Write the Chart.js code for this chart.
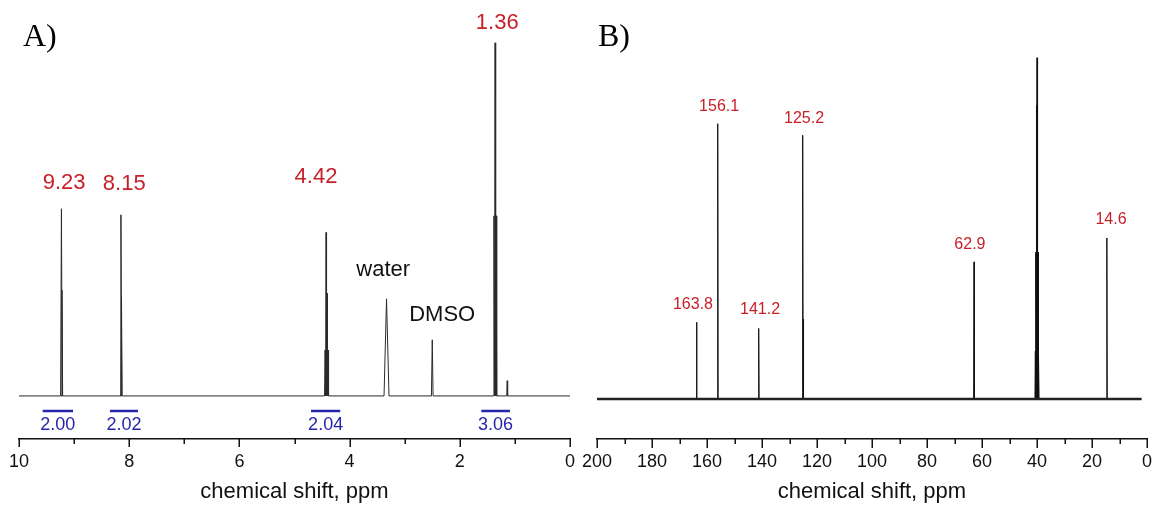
<!DOCTYPE html>
<html>
<head>
<meta charset="utf-8">
<script src="https://cdn.jsdelivr.net/npm/chart.js@4.4.1/dist/chart.umd.min.js"></script>
<style>
  html, body { margin: 0; padding: 0; background: #fff; }
  #wrap { position: relative; width: 1157px; height: 509px; }
  .panel { position: absolute; top: 0; height: 509px; }
  #h-panel { left: 0; width: 580px; }
  #c-panel { left: 580px; width: 577px; }
</style>
</head>
<body>
<div id="wrap">
  <div class="panel" id="h-panel"><canvas id="h-nmr" width="580" height="509"></canvas></div>
  <div class="panel" id="c-panel"><canvas id="c-nmr" width="577" height="509"></canvas></div>
</div>
<script>
// 1H spectrum: line positions (ppm), heights (tallest line = 100), half-width of each foot (ppm)
const hLines   = [9.23, 9.22, 8.15, 8.14, 4.445, 4.427, 4.41, 4.392, 3.33, 2.50, 1.38, 1.36, 1.34, 1.14];
const hHeights = [53.0, 30.0, 51.3, 28.0, 13.0,  46.3,  29.0, 13.0,  27.5, 15.9, 51.0, 100,  51.0, 4.3];
const hFoot    = [0.015, 0.012, 0.015, 0.012, 0.01, 0.01, 0.01, 0.01, 0.045, 0.015, 0.01, 0.012, 0.01, 0.008];

// 1H peak labels
const hLabelShifts = [9.23, 8.15, 4.42, 1.36];
const hLabelX      = [9.18, 8.09, 4.61, 1.32];
const hLabelY      = [60.3, 60.1, 62.0, 105.7];
const hSolvents    = ['water', 'DMSO'];
const hSolventX    = [3.39, 2.32];
const hSolventY    = [35.7, 22.9];

// 1H integrals
const hIntegrals = ['2.00', '2.02', '2.04', '3.06'];
const hIntFrom   = [9.57, 8.35, 4.70, 1.61];
const hIntTo     = [9.02, 7.84, 4.17, 1.09];

// 13C spectrum (DMSO-d6 septet around 40 ppm)
const cLines   = [163.8, 156.1, 141.2, 125.2, 124.9, 62.9, 40.6, 40.4, 40.2, 40.0, 39.8, 39.6, 39.4, 14.6];
const cHeights = [22.5,  80.7,  20.7,  77.3,  23.4,  40.2, 14,   43,   86,   100,  86,   43,   14,   47.2];

// 13C peak labels
const cLabelShifts = [163.8, 156.1, 141.2, 125.2, 62.9, 14.6];
const cLabelX      = [165.1, 155.6, 140.7, 124.7, 64.4, 13.1];
const cLabelY      = [27.6,  85.8,  26.3,  82.2,  45.4, 52.6];

const SANS = "'Liberation Sans', Arial, sans-serif";
const RED = 'rgb(200, 32, 40)';
const BLUE = 'rgb(38, 38, 170)';

function spectrumPoints(lines, heights, foot, from, to) {
  const pts = [{ x: from, y: 0 }];
  lines.forEach((p, i) => {
    const w = Array.isArray(foot) ? foot[i] : foot;
    pts.push({ x: p + w, y: 0 }, { x: p, y: heights[i] }, { x: p - w, y: 0 });
  });
  pts.push({ x: to, y: 0 });
  return pts;
}

function integralPoints(from, to, level) {
  const pts = [];
  from.forEach((f, i) => {
    pts.push({ x: f, y: level }, { x: to[i], y: level }, { x: to[i], y: null });
  });
  return pts;
}

// outward tick marks, longer on labelled values
const axisTicks = {
  id: 'axisTicks',
  afterDraw(chart, args, opts) {
    const scale = chart.scales.x;
    const ctx = chart.ctx;
    const y0 = chart.chartArea.bottom;
    ctx.save();
    ctx.strokeStyle = '#111';
    ctx.lineWidth = 1.5;
    scale.ticks.forEach(t => {
      const major = Math.abs(t.value % opts.majorStep) < 1e-6;
      const x = Math.round(scale.getPixelForValue(t.value)) + 0.25;
      ctx.beginPath();
      ctx.moveTo(x, y0 - 0.5);
      ctx.lineTo(x, y0 + (major ? opts.major : opts.minor));
      ctx.stroke();
    });
    ctx.restore();
  }
};

// text placed in data coordinates, plus the panel letter
const textLayer = {
  id: 'textLayer',
  afterDatasetsDraw(chart, args, opts) {
    const { ctx, scales: { x, y } } = chart;
    ctx.save();
    ctx.textAlign = 'center';
    ctx.textBaseline = 'middle';
    opts.items.forEach(it => {
      ctx.font = it.font;
      ctx.fillStyle = it.color;
      ctx.fillText(it.text, x.getPixelForValue(it.x), y.getPixelForValue(it.y));
    });
    ctx.textAlign = 'left';
    ctx.textBaseline = 'alphabetic';
    ctx.font = "32px 'Liberation Serif', 'Times New Roman', serif";
    ctx.fillStyle = '#000';
    ctx.fillText(opts.panel, opts.panelX, 46);
    ctx.restore();
  }
};

function xAxis(max, step, labelStep) {
  return {
    type: 'linear',
    min: 0,
    max: max,
    reverse: true,
    border: { display: true, color: '#111', width: 1.5 },
    grid: { display: true, drawOnChartArea: false, drawTicks: true, tickLength: 12, tickColor: 'rgba(0,0,0,0)' },
    ticks: {
      stepSize: step,
      autoSkip: false,
      maxRotation: 0,
      padding: 0,
      color: '#111',
      font: { family: SANS, size: 18, lineHeight: 1.2 },
      callback: v => (Math.abs(v % labelStep) < 1e-6 ? String(v) : '')
    },
    title: {
      display: true,
      text: 'chemical shift, ppm',
      color: '#111',
      font: { family: SANS, size: 22, lineHeight: 1.2 },
      padding: { top: 6, bottom: 0 }
    }
  };
}

const baseOptions = {
  responsive: false,
  animation: false,
  events: [],
  plugins: { legend: { display: false }, tooltip: { enabled: false } },
  elements: { point: { radius: 0 }, line: { tension: 0 } }
};

// proton panel
const hItems = [];
hLabelShifts.forEach((s, i) => hItems.push({ text: s.toFixed(2), x: hLabelX[i], y: hLabelY[i], color: RED, font: `22px ${SANS}` }));
hSolvents.forEach((s, i) => hItems.push({ text: s, x: hSolventX[i], y: hSolventY[i], color: '#111', font: `22px ${SANS}` }));
hIntegrals.forEach((s, i) => hItems.push({ text: s, x: (hIntFrom[i] + hIntTo[i]) / 2, y: -8.2, color: BLUE, font: `18px ${SANS}` }));

new Chart(document.getElementById('h-nmr'), {
  type: 'line',
  data: {
    datasets: [
      {
        data: spectrumPoints(hLines, hHeights, hFoot, 10, 0),
        borderColor: '#2a2a2a',
        borderWidth: 1,
        fill: false
      },
      {
        data: integralPoints(hIntFrom, hIntTo, -4.25),
        borderColor: BLUE,
        borderWidth: 2.4,
        spanGaps: false,
        fill: false
      }
    ]
  },
  options: {
    ...baseOptions,
    layout: { padding: { left: 19, right: 10, top: 10, bottom: 4 } },
    scales: {
      x: xAxis(10, 1, 2),
      y: { display: false, min: -12.2, max: 109.3 }
    },
    plugins: {
      ...baseOptions.plugins,
      axisTicks: { majorStep: 2, major: 8, minor: 5 },
      textLayer: { items: hItems, panel: 'A)', panelX: 23 }
    }
  },
  plugins: [axisTicks, textLayer]
});

// carbon panel
const cItems = cLabelShifts.map((s, i) => ({ text: s.toFixed(1), x: cLabelX[i], y: cLabelY[i], color: RED, font: `16px ${SANS}` }));

new Chart(document.getElementById('c-nmr'), {
  type: 'line',
  data: {
    datasets: [
      {
        data: [{ x: 200, y: 0 }, { x: 2, y: 0 }],
        borderColor: '#222',
        borderWidth: 2.6,
        fill: false
      },
      {
        data: spectrumPoints(cLines, cHeights, 0.15, 200, 2),
        borderColor: '#111',
        borderWidth: 1,
        fill: false
      }
    ]
  },
  options: {
    ...baseOptions,
    layout: { padding: { left: 17, right: 10, top: 10, bottom: 4 } },
    scales: {
      x: xAxis(200, 10, 20),
      y: { display: false, min: -11.7, max: 114 }
    },
    plugins: {
      ...baseOptions.plugins,
      axisTicks: { majorStep: 20, major: 9, minor: 5 },
      textLayer: { items: cItems, panel: 'B)', panelX: 18 }
    }
  },
  plugins: [axisTicks, textLayer]
});
</script>
</body>
</html>
